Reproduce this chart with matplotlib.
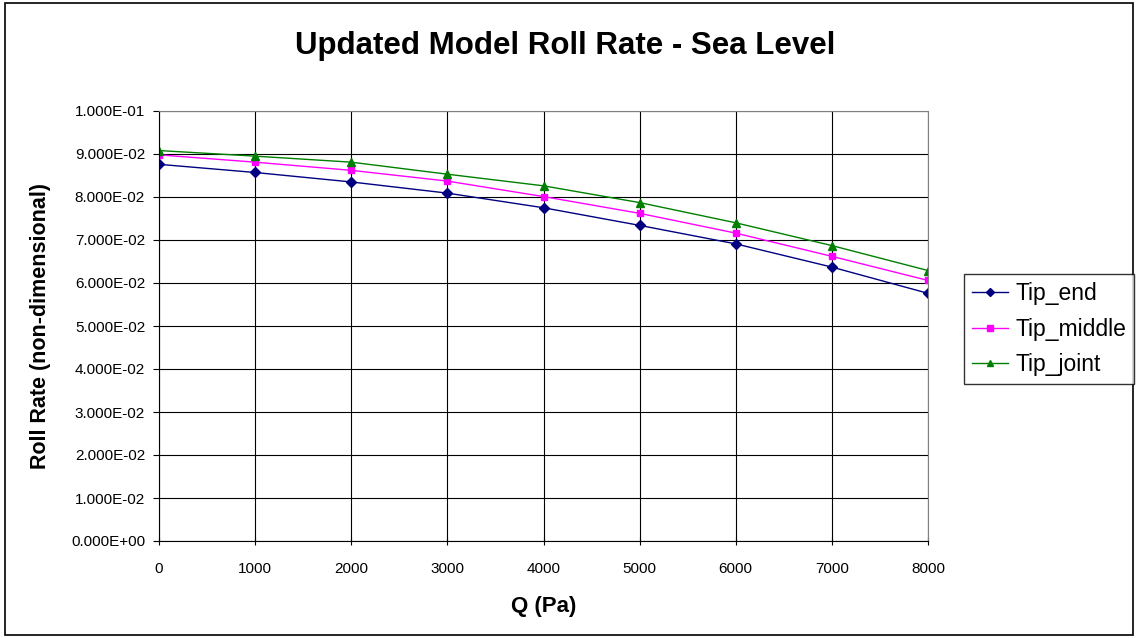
import numpy as np
import matplotlib.pyplot as plt
from matplotlib.ticker import FuncFormatter, MultipleLocator
from matplotlib.patches import Rectangle

plt.rcParams['font.family'] = ['Liberation Sans', 'DejaVu Sans']

# Dynamic pressure (Pa)
q = [0, 1000, 2000, 3000, 4000, 5000, 6000, 7000, 8000]

# Roll rate (non-dimensional) for each tip configuration
tip_end = [0.0876, 0.0857, 0.0835, 0.0809, 0.0775, 0.0734, 0.0691, 0.0637, 0.0576]
tip_middle = [0.0898, 0.0881, 0.0862, 0.0837, 0.0801, 0.0762, 0.0716, 0.0662, 0.0606]
tip_joint = [0.0908, 0.0895, 0.0881, 0.0853, 0.0826, 0.0787, 0.0740, 0.0687, 0.0629]

fig = plt.figure(figsize=(11.38, 6.38), dpi=100)
ax = fig.add_axes([159/1138, 97/638, 769/1138, 430/638])

ax.plot(q, tip_end, color='#000080', marker='D', markersize=5, linewidth=1, label='Tip_end')
ax.plot(q, tip_middle, color='#FF00FF', marker='s', markersize=5, linewidth=1, label='Tip_middle')
ax.plot(q, tip_joint, color='#008000', marker='^', markersize=6, linewidth=1, label='Tip_joint')

ax.set_xlim(0, 8000)
ax.set_ylim(0, 0.1)
ax.xaxis.set_major_locator(MultipleLocator(1000))
ax.yaxis.set_major_locator(MultipleLocator(0.01))
ax.yaxis.set_major_formatter(FuncFormatter(lambda v, p: f"{v:.3E}"))
ax.grid(True, color='black', linewidth=0.8)
ax.set_axisbelow(True)
for s in ax.spines.values():
    s.set_color('#808080')
ax.spines['left'].set_color('black')
ax.spines['bottom'].set_color('black')
ax.tick_params(axis='y', direction='out', length=4, labelsize=11, pad=6)
ax.tick_params(axis='x', direction='inout', length=6, labelsize=11, pad=12)

ax.set_xlabel('Q (Pa)', fontsize=16, fontweight='bold')
ax.set_ylabel('Roll Rate (non-dimensional)', fontsize=15.5, fontweight='bold')
ax.xaxis.set_label_coords(0.5, -0.127)
ax.yaxis.set_label_coords(-0.141, 0.5)
fig.text(0.5 * (283 + 848) / 1138, 1 - 46/638, 'Updated Model Roll Rate - Sea Level',
         fontsize=22.5, fontweight='bold', ha='center', va='center')

leg = fig.legend(loc='upper right', bbox_to_anchor=(1134/1138, 1 - 274/638),
                 fontsize=16.5, frameon=True, fancybox=False, borderpad=0.35,
                 handlelength=1.6, handletextpad=0.3, labelspacing=0.55,
                 borderaxespad=0, markerscale=0.8)
leg.get_frame().set_edgecolor('black')
leg.get_frame().set_linewidth(1)

fig.patches.append(Rectangle((0.004, 0.004), 0.992, 0.992, transform=fig.transFigure,
                             fill=False, edgecolor='black', linewidth=1.2))

fig.savefig('out.png', dpi=100)
